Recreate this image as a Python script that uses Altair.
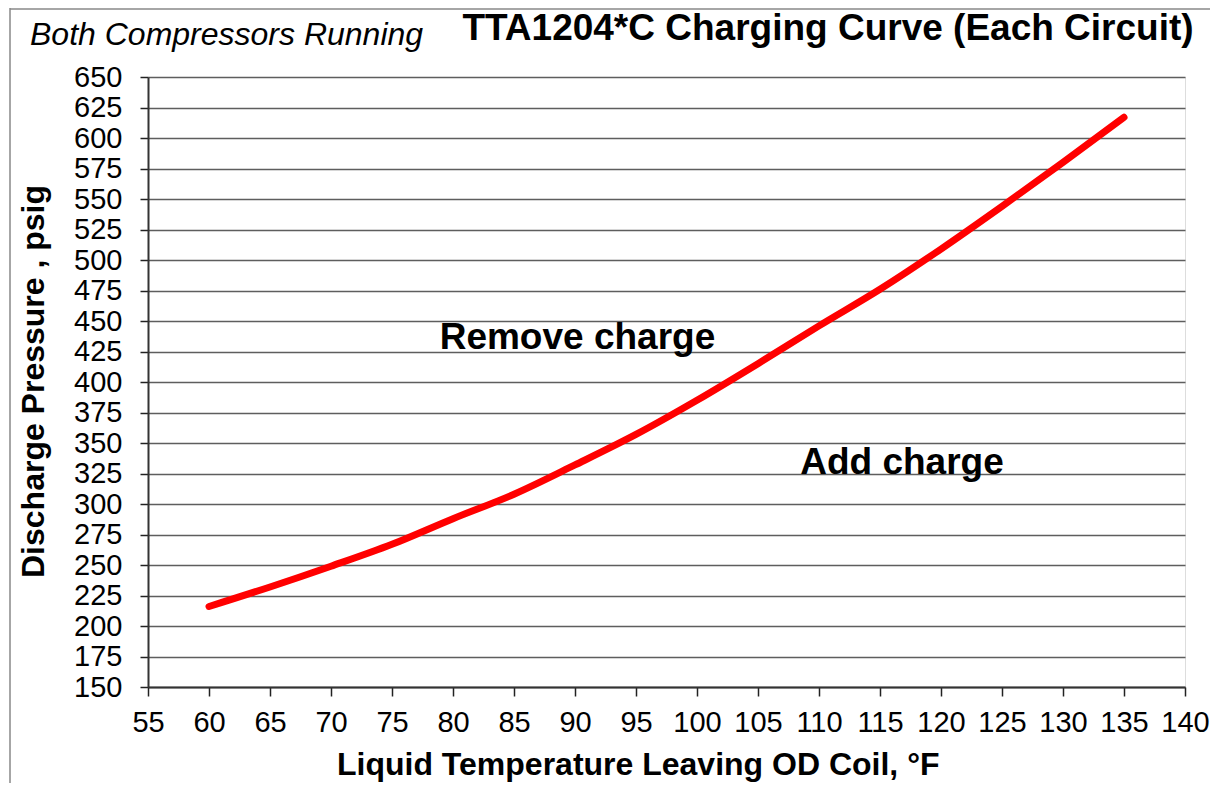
import altair as alt
import pandas as pd

# Data
temps = [60, 65, 70, 75, 80, 85, 90, 95, 100, 105, 110, 115, 120, 125, 130, 135]
pressures = [216, 232, 249, 267, 288, 308, 332, 357, 385, 415, 446, 476, 509, 544, 580, 617]

x_ticks = list(range(55, 141, 5))
y_ticks = list(range(150, 651, 25))

ann_text = ["Remove charge", "Add charge"]
ann_x = [90.2, 116.8]
ann_y = [427, 325]

FONT = "Liberation Sans"
W, H = 1037, 610

df = pd.DataFrame({"t": temps, "p": pressures})
ann = pd.DataFrame({"text": ann_text, "x": ann_x, "y": ann_y})

xs = alt.Scale(domain=[55, 140], nice=False, zero=False)
ys = alt.Scale(domain=[150, 650], nice=False, zero=False)

x_axis = alt.Axis(values=x_ticks, title=None, grid=False, labelFontSize=29,
                  labelFont=FONT, labelColor="black", labelPadding=12,
                  tickSize=9, tickColor="#222", tickWidth=1.5,
                  domainColor="#333", domainWidth=2, labelFlush=False,
                  labelOverlap=False)
y_axis = alt.Axis(values=y_ticks, title=None, grid=True, gridColor="#5e5e5e",
                  gridWidth=1.6, labelFontSize=29, labelFont=FONT,
                  labelColor="black", labelPadding=18, tickSize=8,
                  tickColor="#222", tickWidth=1.5, domainColor="#333",
                  domainWidth=2, labelFlush=False, labelOverlap=False)

line = alt.Chart(df).mark_line(color="#ff0000", strokeWidth=7, strokeCap="round",
                               interpolate="monotone").encode(
    x=alt.X("t:Q", scale=xs, axis=x_axis),
    y=alt.Y("p:Q", scale=ys, axis=y_axis),
)

annot = alt.Chart(ann).mark_text(font=FONT, fontSize=37, fontWeight="bold",
                                 color="black", baseline="alphabetic").encode(
    x=alt.X("x:Q", scale=xs, axis=x_axis),
    y=alt.Y("y:Q", scale=ys, axis=y_axis),
    text="text:N")

def label(txt, x, y, size, weight="normal", style="normal", align="left", angle=0):
    kw = dict(font=FONT, fontSize=size, fontWeight=weight, fontStyle=style,
              align=align, baseline="alphabetic", color="black")
    if angle:
        kw["angle"] = angle
    return alt.Chart(pd.DataFrame({"s": [txt]})).mark_text(**kw).encode(
        text="s:N", x=alt.value(x), y=alt.value(y))

subtitle = label("Both Compressors Running", -118, -32, 32, style="italic")
title = label("TTA1204*C Charging Curve (Each Circuit)", 680, -37, 37, weight="bold", align="center")
xtitle = label("Liquid Temperature Leaving OD Coil, °F", 189, 698, 32, weight="bold")
ytitle = label("Discharge Pressure ,  psig", -104, 501, 32, weight="bold", angle=270)

border_df = pd.DataFrame({"k": [0]})
left_border = alt.Chart(border_df).mark_rule(color="#888", strokeWidth=1.5).encode(
    x=alt.value(-138), y=alt.value(-69), y2=alt.value(H + 100))
top_border = alt.Chart(border_df).mark_rule(color="#888", strokeWidth=1.5).encode(
    x=alt.value(-138), x2=alt.value(W + 30), y=alt.value(-68))

chart = alt.layer(line, annot, subtitle, title, xtitle, ytitle, left_border, top_border).properties(
    width=W, height=H,
    autosize=alt.AutoSizeParams(type="none"),
    padding={"left": 140, "top": 69, "right": 25, "bottom": 96},
).configure_view(stroke="#888888", strokeWidth=2.5).configure(background="white")

chart.save("out.html", embed_options={"renderer": "svg", "actions": False})
